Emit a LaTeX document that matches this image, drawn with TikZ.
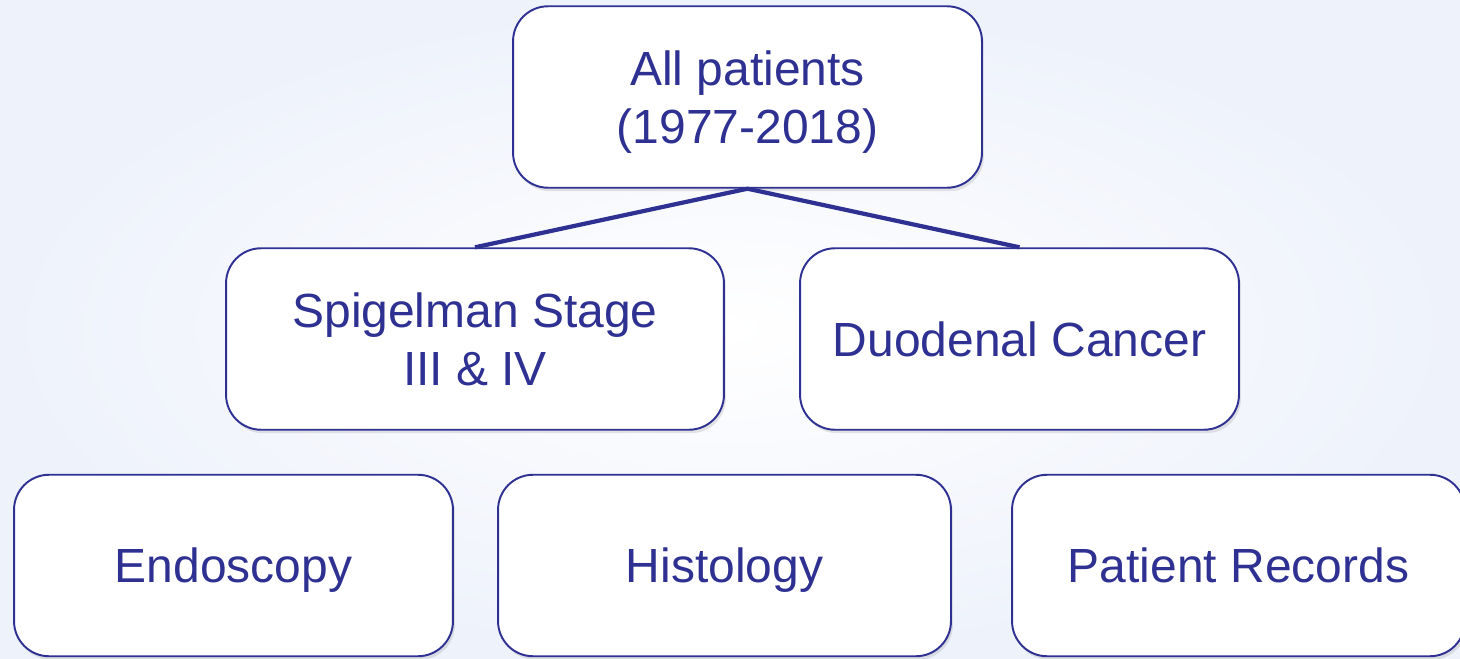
\documentclass[tikz,border=0pt]{standalone}
\usepackage{fontspec}
\setmainfont{Liberation Sans}
\usetikzlibrary{shadows}

\definecolor{navy}{HTML}{2E3192}
\definecolor{paleblue}{HTML}{EEF2FB}

\begin{document}
\begin{tikzpicture}[x=0.02cm, y=-0.02cm,
    box/.style={draw=navy, line width=1.1pt, fill=white, rounded corners=0.7cm,
      minimum height=3.63cm, align=center, text=navy, text depth=0pt,
      font=\fontsize{27.3}{33}\selectfont,
      drop shadow={opacity=0.2, shadow xshift=0.04cm, shadow yshift=-0.07cm}},
    link/.style={draw=navy, line width=2.4pt}]
  % background
  \shade[inner color=white, outer color=paleblue] (0,0) rectangle (1460,659);
  \useasboundingbox (0,0) rectangle (1460,659);

  \node[box, minimum width=9.38cm] (all) at (747.5,97) {All patients\\(1977-2018)};
  \node[box, minimum width=9.96cm] (spig) at (475,339) {Spigelman Stage\\III \& IV};
  \node[box, minimum width=8.78cm] (duod) at (1019.5,339) {Duodenal Cancer};
  \node[box, minimum width=8.78cm] (endo) at (233.5,565.5) {Endoscopy};
  \node[box, minimum width=9.06cm] (hist) at (724.5,565.5) {Histology};
  \node[box, minimum width=9.06cm] (recs) at (1238.5,565.5) {Patient Records};

  \draw[link] (spig.north) -- (all.south) -- (duod.north);
\end{tikzpicture}
\end{document}
